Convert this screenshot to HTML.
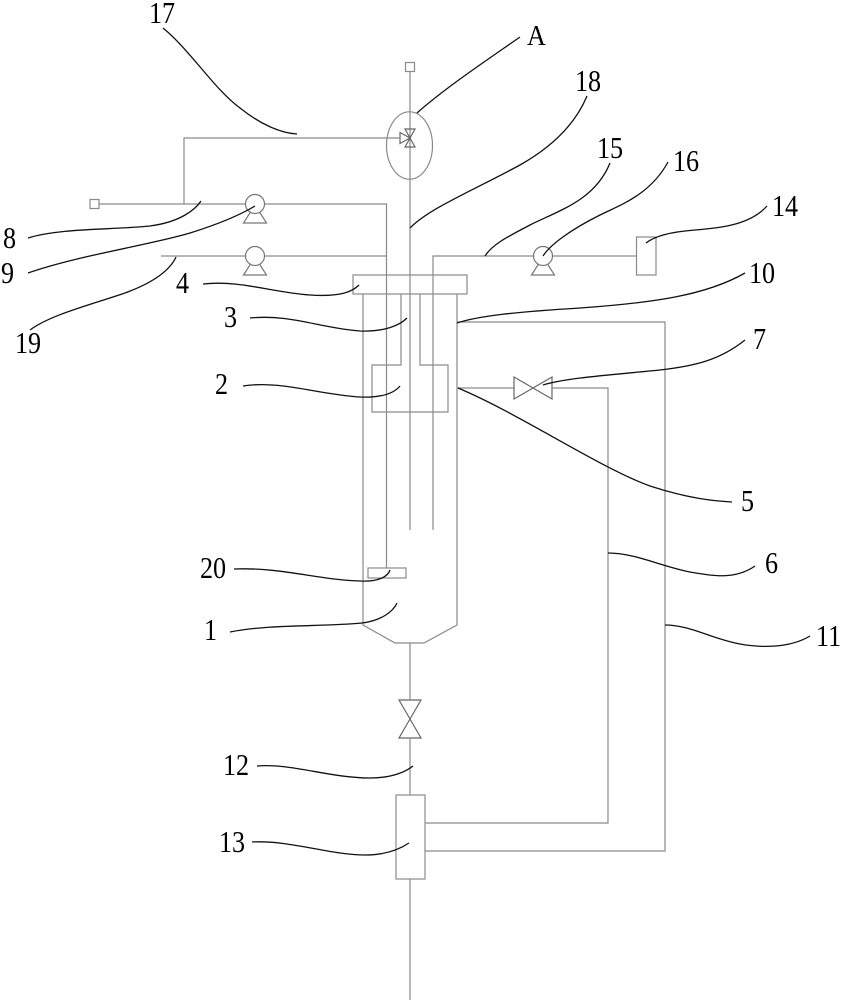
<!DOCTYPE html>
<html>
<head>
<meta charset="utf-8">
<style>
html,body{margin:0;padding:0;background:#fff;}
svg{display:block;}
text{font-family:"Liberation Serif",serif;font-size:27.5px;fill:#000;}
</style>
</head>
<body>
<svg width="844" height="1000" viewBox="0 0 844 1000" xmlns="http://www.w3.org/2000/svg">
<g fill="none" stroke="#8a8a8a" stroke-width="1.2">
  <rect x="405.5" y="62.5" width="9" height="9"/>
  <line x1="410" y1="71.5" x2="410" y2="530"/>
  <ellipse cx="409.5" cy="145.5" rx="23" ry="33.7"/>
  <polygon points="405,129 415,129 410,138 405,147 415,147 410,138" stroke="#666"/>
  <polygon points="400,132.5 400,143.5 410,138" stroke="#666"/>
  <polyline points="184,204 184,138 400,138"/>
  <rect x="90" y="199.5" width="9" height="9"/>
  <polyline points="99,204 386.5,204 386.5,568"/>
  <line x1="161" y1="256" x2="386.5" y2="256"/>
  <polyline points="433,530 433,256 636.5,256"/>
  <rect x="636.5" y="237" width="19.5" height="38"/>
  <rect x="353" y="275" width="114" height="19"/>
  <polyline points="363,294 363,625 395,643 424,643 457,625 457,294"/>
  <polyline points="401,294 401,365 372,365 372,412 448,412 448,365 420,365 420,294"/>
  <rect x="368" y="568" width="38" height="10"/>
  <line x1="410" y1="643" x2="410" y2="700"/>
  <polygon points="399,700 421,700 410,719 399,738 421,738 410,719" stroke="#666"/>
  <line x1="410" y1="738" x2="410" y2="795"/>
  <rect x="396" y="795" width="29" height="84"/>
  <line x1="410" y1="879" x2="410" y2="1000"/>
  <line x1="457" y1="388" x2="514" y2="388"/>
  <polygon points="514,377 514,399 533,388 552,377 552,399 533,388" stroke="#666"/>
  <polyline points="552,388 608,388 608,823 425,823"/>
  <polyline points="457,322 665,322 665,851 425,851"/>
</g>
<g fill="#fff" stroke="#777" stroke-width="1.2">
  <polygon points="243.5,223 266.5,223 255,205"/>
  <circle cx="255" cy="204" r="9.5"/>
  <polygon points="243.5,275 266.5,275 255,257"/>
  <circle cx="255" cy="256" r="9.5"/>
  <polygon points="531.5,275 554.5,275 543,257"/>
  <circle cx="543" cy="256" r="9.5"/>
</g>
<g fill="none" stroke="#111" stroke-width="1.3">
  <path d="M163,28 C190,50 215,90 240,108 C260,124 280,133 297,134"/>
  <path d="M520,37 C490,58 445,88 417,113"/>
  <path d="M587,96 C575,125 550,148 520,165 C470,192 430,208 410,228"/>
  <path d="M610,163 C595,200 560,210 530,225 C505,238 492,245 485,256"/>
  <path d="M668,162 C650,195 620,205 600,215 C570,230 550,245 543,256"/>
  <path d="M767,206 C750,225 720,228 695,230 C670,232 655,236 646,243"/>
  <path d="M745,273 C705,296 650,303 580,308 C515,312 478,316 457,323"/>
  <path d="M745,340 C720,360 695,366 660,370 C610,375 565,378 543,385"/>
  <path d="M458,388 C520,414 600,468 650,486 C690,499 715,501 732,502"/>
  <path d="M755,566 C735,580 712,576 690,572 C660,566 635,553 608,553"/>
  <path d="M810,636 C790,648 762,648 740,644 C712,639 690,625 665,625"/>
  <path d="M28,238 C60,228 110,230 150,226 C180,222 195,210 201,201"/>
  <path d="M28,273 C80,255 150,245 190,233 C225,222 245,212 255,206"/>
  <path d="M30,330 C50,315 90,305 125,293 C155,282 170,270 176,257"/>
  <path d="M203,284 C240,280 270,292 310,295 C340,297 352,292 359,285"/>
  <path d="M250,318 C290,314 320,328 360,331 C385,332 400,325 407,318"/>
  <path d="M243,386 C280,380 320,395 360,397 C385,398 395,392 400,386"/>
  <path d="M234,569 C280,567 320,580 360,581 C380,582 388,576 390,570"/>
  <path d="M230,632 C270,624 320,627 362,623 C380,621 393,612 397,603"/>
  <path d="M257,766 C290,763 330,778 370,778 C395,778 408,770 413,766"/>
  <path d="M252,842 C290,840 330,855 365,855 C390,855 403,847 409,843"/>
</g>
<g>
<text transform="translate(149,23) scale(0.95,1.12)">17</text>
<text transform="translate(527,45) scale(0.95,1.05)">A</text>
<text transform="translate(575,91) scale(0.95,1.12)">18</text>
<text transform="translate(597,158) scale(0.95,1.12)">15</text>
<text transform="translate(673,171) scale(0.95,1.12)">16</text>
<text transform="translate(772,216) scale(0.95,1.12)">14</text>
<text transform="translate(749,283) scale(0.95,1.12)">10</text>
<text transform="translate(753,349) scale(0.95,1.12)">7</text>
<text transform="translate(741,511) scale(0.95,1.12)">5</text>
<text transform="translate(765,573) scale(0.95,1.12)">6</text>
<text transform="translate(816,646) scale(0.95,1.12)">11</text>
<text transform="translate(3,248) scale(0.95,1.12)">8</text>
<text transform="translate(1,283) scale(0.95,1.12)">9</text>
<text transform="translate(15,353) scale(0.95,1.12)">19</text>
<text transform="translate(176,293) scale(0.95,1.12)">4</text>
<text transform="translate(224,327) scale(0.95,1.12)">3</text>
<text transform="translate(215,394) scale(0.95,1.12)">2</text>
<text transform="translate(200,578) scale(0.95,1.12)">20</text>
<text transform="translate(204,640) scale(0.95,1.12)">1</text>
<text transform="translate(223,775) scale(0.95,1.12)">12</text>
<text transform="translate(219,852) scale(0.95,1.12)">13</text>
</g>
</svg>
</body>
</html>
